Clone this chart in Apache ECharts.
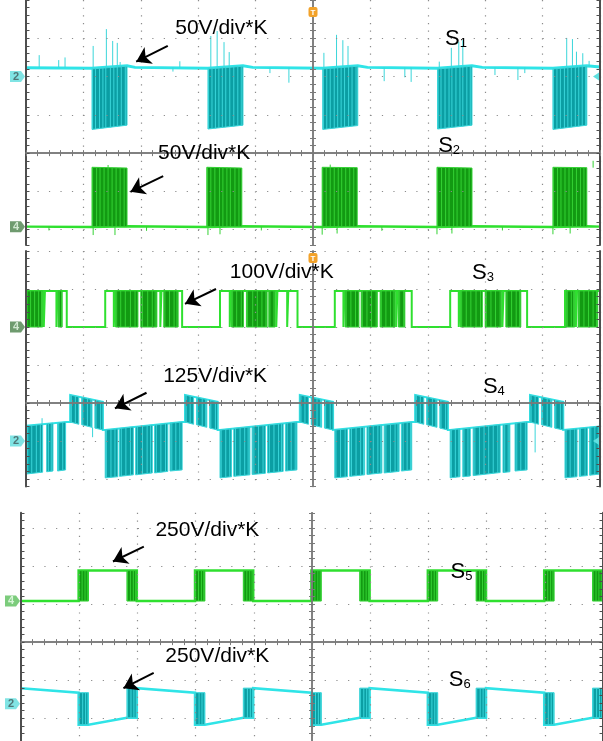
<!DOCTYPE html>
<html>
<head>
<meta charset="utf-8">
<title>Switch voltages S1-S6</title>
<script src="https://cdn.jsdelivr.net/npm/echarts@6/dist/echarts.min.js"></script>
<style>
  html, body { margin: 0; padding: 0; background: #fff; }
  #scope { width: 603px; height: 741px; }
</style>
</head>
<body>
<div id="scope"></div>
<script>
// All values are in graticule divisions: x runs from -5 to 5 across a screen,
// y is measured from that screen's horizontal centre line.

// ---------- Screen 1: S1 (cyan) ----------
const s1Trace = [[-5.00,2.23],[-3.85,2.22],[-3.24,2.28],[-3.10,2.24],[-1.83,2.22],[-1.22,2.28],[-1.05,2.24],
  [0.17,2.22],[0.78,2.28],[0.95,2.24],[2.17,2.22],[2.77,2.28],[2.95,2.24],[4.18,2.22],[4.77,2.28],[5.00,2.25]];
// switching bursts: [xStart, xEnd, topStart, topEnd, bottomStart, bottomEnd]
const s1Bursts = [[-3.85,-3.24,2.20,2.27,0.62,0.73],[-1.83,-1.22,2.20,2.27,0.63,0.73],[0.17,0.78,2.20,2.27,0.62,0.72],
  [2.17,2.77,2.20,2.27,0.63,0.73],[4.18,4.77,2.20,2.27,0.62,0.73]];
const s1Edges = [-3.84,-3.79,-3.72,-3.66,-3.61,-3.53,-3.47,-3.41,-3.34,-3.27,
  -1.82,-1.76,-1.70,-1.64,-1.58,-1.52,-1.45,-1.38,-1.31,-1.25,
  0.18,0.24,0.30,0.37,0.43,0.49,0.55,0.62,0.68,0.75,
  2.18,2.23,2.30,2.37,2.42,2.49,2.56,2.61,2.68,2.74,
  4.19,4.25,4.31,4.38,4.44,4.50,4.57,4.63,4.69,4.75];
// single overshoots: [x, from, to]
const s1Spikes = [[-4.77,2.24,2.56],[-4.43,2.24,2.43],[-4.32,2.24,2.50],[-2.32,2.24,2.40],
  [-3.83,2.24,2.80],[-3.60,2.24,3.24],[-3.49,2.24,2.93],[-3.41,2.24,2.88],[-3.36,2.24,2.38],
  [-1.78,2.24,3.06],[-1.67,2.24,3.19],[-1.55,2.24,2.90],[-1.46,2.24,2.64],
  [0.19,2.24,2.62],[0.41,2.24,3.09],[0.52,2.24,2.95],[0.61,2.24,2.80],
  [2.20,2.24,2.39],[2.41,2.24,2.75],[2.54,2.24,2.91],[2.61,2.24,2.95],
  [4.42,2.24,3.01],[4.52,2.24,2.98],[4.59,2.24,2.65],[4.70,2.24,2.61],[4.81,2.24,2.41],
  [-2.44,2.24,2.13],[-0.75,2.24,2.09],[-0.42,2.24,1.84],[1.24,2.24,1.88],[1.60,2.24,1.98],
  [1.71,2.24,1.86],[3.17,2.24,2.04],[3.57,2.24,1.91],[3.69,2.24,2.09]];

// ---------- Screen 1: S2 (green) ----------
const s2Trace = [[-5.00,-1.92],[-3.85,-1.93],[-3.24,-1.91],[-1.85,-1.93],[-1.24,-1.91],[0.16,-1.93],[0.77,-1.91],
  [2.16,-1.93],[2.77,-1.91],[4.18,-1.93],[4.77,-1.91],[5.00,-1.92]];
const s2Bursts = [[-3.85,-3.24,-0.37,-0.39,-1.92,-1.92],[-1.85,-1.24,-0.37,-0.39,-1.92,-1.92],
  [0.16,0.77,-0.37,-0.38,-1.92,-1.92],[2.16,2.77,-0.37,-0.39,-1.92,-1.92],[4.18,4.77,-0.37,-0.38,-1.92,-1.92]];
const s2Edges = [-3.84,-3.77,-3.71,-3.64,-3.57,-3.50,-3.43,-3.36,-3.29,
  -1.84,-1.78,-1.71,-1.63,-1.57,-1.50,-1.44,-1.36,-1.29,
  0.17,0.23,0.30,0.37,0.44,0.50,0.57,0.64,0.71,
  2.17,2.24,2.31,2.37,2.45,2.51,2.58,2.65,2.72,
  4.19,4.26,4.32,4.39,4.46,4.52,4.59,4.66,4.72];
const s2Spikes = [[-3.83,-1.92,-2.14],[-3.45,-1.92,-2.14],[-1.83,-1.92,-2.14],[-1.62,-1.92,-2.12],
  [0.16,-1.92,-2.13],[0.42,-1.92,-2.10],[2.16,-1.92,-2.12],[2.42,-1.92,-2.10],[4.18,-1.92,-2.12],
  [4.48,-1.92,-2.10],[-4.60,-1.92,-2.02],[-2.90,-1.92,-2.03],[-0.90,-1.92,-2.02],[1.20,-1.92,-2.03],
  [3.30,-1.92,-2.02],[-3.57,-0.38,-0.31],[0.30,-0.38,-0.30],[4.88,-0.38,-0.20]];

// ---------- Screen 2: S3 (green) ----------
const s3Trace = [[-5.00,2.95],[-4.69,2.95],[-4.69,2.00],[-4.67,2.00],[-4.67,2.95],[-4.47,2.95],[-4.47,2.00],
  [-4.45,2.00],[-4.45,2.95],[-4.29,2.95],[-4.29,2.00],[-3.62,2.00],
  [-3.62,2.95],[-3.47,2.95],[-3.47,2.00],[-3.45,2.00],[-3.45,2.95],[-2.66,2.95],[-2.66,2.00],[-2.64,2.00],
  [-2.64,2.95],[-2.28,2.95],[-2.28,2.00],[-1.62,2.00],
  [-1.62,2.95],[-1.45,2.95],[-1.45,2.00],[-1.43,2.00],[-1.43,2.95],[-0.64,2.95],[-0.64,2.00],[-0.62,2.00],
  [-0.62,2.95],[-0.45,2.95],[-0.45,2.00],[-0.43,2.00],[-0.43,2.95],[-0.27,2.95],[-0.27,2.00],[0.38,2.00],
  [0.38,2.95],[0.53,2.95],[0.53,2.00],[0.55,2.00],[0.55,2.95],[1.45,2.95],[1.45,2.00],[1.47,2.00],
  [1.47,2.95],[1.72,2.95],[1.72,2.00],[2.39,2.00],
  [2.39,2.95],[2.54,2.95],[2.54,2.00],[2.56,2.00],[2.56,2.95],[3.30,2.95],[3.30,2.00],[3.32,2.00],
  [3.32,2.95],[3.73,2.95],[3.73,2.00],[4.39,2.00],
  [4.39,2.95],[4.58,2.95],[4.58,2.00],[4.60,2.00],[4.60,2.95],[5.00,2.95]];
const s3Bursts = [[-5.00,-4.71,2.95,2.95,2.00,2.00],[-4.44,-4.37,2.95,2.95,2.00,2.00],
  [-3.44,-3.05,2.95,2.95,2.00,2.00],[-3.00,-2.72,2.95,2.95,2.00,2.00],[-2.60,-2.35,2.95,2.95,2.00,2.00],
  [-1.42,-1.21,2.95,2.95,2.00,2.00],[-1.16,-0.80,2.95,2.95,2.00,2.00],[-0.77,-0.66,2.95,2.95,2.00,2.00],
  [0.56,0.80,2.95,2.95,2.00,2.00],[0.84,1.12,2.95,2.95,2.00,2.00],[1.17,1.43,2.95,2.95,2.00,2.00],
  [1.49,1.60,2.95,2.95,2.00,2.00],
  [2.57,2.95,2.95,2.95,2.00,2.00],[3.00,3.28,2.95,2.95,2.00,2.00],[3.36,3.62,2.95,2.95,2.00,2.00],
  [4.41,4.56,2.95,2.95,2.00,2.00],[4.62,4.96,2.95,2.95,2.00,2.00]];
const s3Edges = [-4.98,-4.92,-4.85,-4.78,-4.73,-4.42,-4.38,-3.42,-3.35,-3.27,-3.18,-3.10,-2.97,-2.88,-2.80,
  -2.75,-2.58,-2.50,-2.42,-2.37,-1.40,-1.33,-1.25,-1.14,-1.05,-0.97,-0.89,-0.82,-0.75,-0.68,
  0.58,0.66,0.74,0.86,0.94,1.02,1.10,1.19,1.27,1.35,1.41,1.51,1.58,2.59,2.67,2.75,2.84,2.92,
  3.02,3.10,3.18,3.26,3.38,3.46,3.54,3.60,4.43,4.50,4.54,4.64,4.72,4.80,4.88,4.94];

// ---------- Screen 2: S4 (cyan) ----------
const s4Trace = [[-5.00,-0.60],[-4.29,-0.50],[-4.23,-0.50],[-4.23,0.21],[-3.66,0.03],[-3.66,-0.71],[-3.62,-0.71],
  [-2.28,-0.50],[-2.23,-0.50],[-2.23,0.21],[-1.66,0.03],[-1.66,-0.71],[-1.62,-0.71],
  [-0.28,-0.50],[-0.23,-0.50],[-0.23,0.21],[0.35,0.03],[0.35,-0.71],[0.38,-0.71],
  [1.72,-0.50],[1.78,-0.50],[1.78,0.21],[2.35,0.03],[2.35,-0.71],[2.39,-0.71],
  [3.73,-0.50],[3.78,-0.50],[3.78,0.21],[4.36,0.03],[4.36,-0.71],[4.39,-0.71],[5.00,-0.62]];
const s4Bursts = [
  [-5.00,-4.71,-0.61,-0.56,-1.87,-1.82],[-4.64,-4.53,-0.55,-0.53,-1.81,-1.79],[-4.45,-4.31,-0.53,-0.50,-1.79,-1.76],
  [-4.23,-4.08,0.21,0.16,-0.50,-0.56],[-4.03,-3.85,0.15,0.09,-0.57,-0.64],[-3.80,-3.66,0.07,0.03,-0.66,-0.71],
  [-3.62,-3.40,-0.71,-0.68,-1.97,-1.94],[-3.37,-3.13,-0.67,-0.63,-1.93,-1.89],[-3.09,-2.80,-0.63,-0.58,-1.89,-1.84],
  [-2.76,-2.53,-0.58,-0.54,-1.84,-1.80],[-2.49,-2.28,-0.53,-0.50,-1.79,-1.76],
  [-2.23,-2.08,0.21,0.16,-0.50,-0.56],[-2.03,-1.85,0.15,0.09,-0.57,-0.64],[-1.80,-1.66,0.07,0.03,-0.66,-0.71],
  [-1.62,-1.42,-0.71,-0.68,-1.97,-1.94],[-1.38,-1.10,-0.67,-0.63,-1.93,-1.89],[-1.06,-0.83,-0.62,-0.59,-1.88,-1.85],
  [-0.79,-0.52,-0.58,-0.54,-1.84,-1.80],[-0.48,-0.28,-0.53,-0.50,-1.79,-1.76],
  [-0.23,-0.08,0.21,0.16,-0.50,-0.56],[-0.03,0.15,0.15,0.09,-0.57,-0.64],[0.20,0.35,0.07,0.03,-0.66,-0.71],
  [0.38,0.60,-0.71,-0.68,-1.97,-1.94],[0.64,0.90,-0.67,-0.63,-1.93,-1.89],[0.94,1.20,-0.62,-0.58,-1.88,-1.84],
  [1.24,1.50,-0.58,-0.54,-1.84,-1.80],[1.54,1.72,-0.53,-0.50,-1.79,-1.76],
  [1.78,1.93,0.21,0.16,-0.50,-0.56],[1.98,2.16,0.15,0.09,-0.57,-0.64],[2.21,2.35,0.07,0.03,-0.66,-0.71],
  [2.39,2.56,-0.71,-0.68,-1.97,-1.94],[2.61,2.74,-0.68,-0.66,-1.94,-1.92],[2.79,3.26,-0.65,-0.57,-1.91,-1.83],
  [3.31,3.43,-0.57,-0.55,-1.83,-1.81],[3.52,3.73,-0.53,-0.50,-1.79,-1.76],
  [3.78,3.93,0.21,0.16,-0.50,-0.56],[3.98,4.16,0.15,0.09,-0.57,-0.64],[4.21,4.36,0.07,0.03,-0.66,-0.71],
  [4.39,4.60,-0.71,-0.68,-1.97,-1.94],[4.64,4.78,-0.67,-0.65,-1.93,-1.91],[4.82,5.00,-0.64,-0.61,-1.90,-1.87]];
const s4Edges = [-4.97,-4.90,-4.82,-4.75,-4.61,-4.56,-4.43,-4.36,
  -3.60,-3.52,-3.45,-3.34,-3.26,-3.18,-3.06,-2.97,-2.89,-2.83,-2.73,-2.65,-2.57,-2.46,-2.39,-2.32,
  -1.60,-1.52,-1.45,-1.35,-1.27,-1.19,-1.13,-1.03,-0.95,-0.87,-0.76,-0.68,-0.60,-0.55,-0.45,-0.38,-0.31,
  0.40,0.48,0.56,0.67,0.75,0.83,0.88,0.97,1.05,1.13,1.18,1.27,1.35,1.43,1.48,1.57,1.64,1.70,
  2.41,2.48,2.54,2.63,2.70,2.82,2.90,2.98,3.06,3.14,3.22,3.34,3.40,3.55,3.62,3.70,
  4.41,4.48,4.56,4.66,4.74,4.84,4.91,4.97,
  -4.21,-4.14,-4.01,-3.93,-3.87,-3.78,-3.70,-2.21,-2.14,-2.01,-1.93,-1.87,-1.78,-1.70,
  -0.21,-0.14,-0.01,0.07,0.13,0.22,0.30,1.80,1.87,2.00,2.08,2.14,2.23,2.31,
  3.80,3.87,4.00,4.08,4.14,4.23,4.31];
const s4Spikes = [[-3.84,-0.64,-0.90],[3.87,-0.55,-1.30],[-4.72,-0.56,-0.40]];

// ---------- Screen 3: S5 (green) ----------
const s5Trace = [[-5.00,1.08],[-4.01,1.08],[-4.01,1.88],[-3.01,1.88],[-3.01,1.08],[-2.01,1.08],[-2.01,1.88],
  [-1.01,1.88],[-1.01,1.08],[-0.01,1.08],[-0.01,1.88],[0.99,1.88],[0.99,1.08],[1.99,1.08],[1.99,1.88],
  [2.99,1.88],[2.99,1.08],[3.99,1.08],[3.99,1.88],[5.00,1.88]];
const s5Bursts = [[-4.01,-3.84,1.88,1.88,1.08,1.08],[-3.18,-3.01,1.88,1.88,1.08,1.08],
  [-2.01,-1.84,1.88,1.88,1.08,1.08],[-1.18,-1.01,1.88,1.88,1.08,1.08],
  [-0.01,0.16,1.88,1.88,1.08,1.08],[0.82,0.99,1.88,1.88,1.08,1.08],
  [1.99,2.16,1.88,1.88,1.08,1.08],[2.82,2.99,1.88,1.88,1.08,1.08],
  [3.99,4.16,1.88,1.88,1.08,1.08],[4.82,4.99,1.88,1.88,1.08,1.08]];
const s5Edges = [-4.00,-3.95,-3.90,-3.86,-3.17,-3.12,-3.07,-3.03,-2.00,-1.95,-1.90,-1.86,-1.17,-1.12,-1.07,-1.03,
  0.00,0.05,0.10,0.14,0.83,0.88,0.93,0.97,2.00,2.05,2.10,2.14,2.83,2.88,2.93,2.97,
  4.00,4.05,4.10,4.14,4.83,4.88,4.93,4.97];

// ---------- Screen 3: S6 (cyan) ----------
const s6Trace = [[-5.00,-1.21],[-4.01,-1.33],[-4.01,-2.17],[-3.84,-2.17],[-3.18,-1.99],[-3.01,-1.99],
  [-3.01,-1.21],[-2.01,-1.33],[-2.01,-2.17],[-1.84,-2.17],[-1.18,-1.99],[-1.01,-1.99],
  [-1.01,-1.21],[-0.01,-1.33],[-0.01,-2.17],[0.16,-2.17],[0.82,-1.99],[0.99,-1.99],
  [0.99,-1.21],[1.99,-1.33],[1.99,-2.17],[2.16,-2.17],[2.82,-1.99],[2.99,-1.99],
  [2.99,-1.21],[3.99,-1.33],[3.99,-2.17],[4.16,-2.17],[4.82,-1.99],[5.00,-1.99]];
const s6Bursts = [[-4.01,-3.84,-1.33,-1.33,-2.17,-2.17],[-3.18,-3.01,-1.21,-1.21,-1.99,-1.99],
  [-2.01,-1.84,-1.33,-1.33,-2.17,-2.17],[-1.18,-1.01,-1.21,-1.21,-1.99,-1.99],
  [-0.01,0.16,-1.33,-1.33,-2.17,-2.17],[0.82,0.99,-1.21,-1.21,-1.99,-1.99],
  [1.99,2.16,-1.33,-1.33,-2.17,-2.17],[2.82,2.99,-1.21,-1.21,-1.99,-1.99],
  [3.99,4.16,-1.33,-1.33,-2.17,-2.17],[4.82,4.99,-1.21,-1.21,-1.99,-1.99]];
const s6Edges = [-4.00,-3.94,-3.89,-3.85,-3.17,-3.11,-3.06,-3.02,-2.00,-1.94,-1.89,-1.85,-1.17,-1.11,-1.06,-1.02,
  0.00,0.06,0.11,0.15,0.83,0.89,0.94,0.98,2.00,2.06,2.11,2.15,2.83,2.89,2.94,2.98,
  4.00,4.06,4.11,4.15,4.83,4.89,4.94,4.98];

// ---------- Annotations ----------
const noteText  = ['50V/div*K', '50V/div*K', '100V/div*K', '125V/div*K', '250V/div*K', '250V/div*K'];
const notePanel = [0, 0, 1, 1, 2, 2];
const noteAt    = [[-2.40,3.27],[-2.70,0.00],[-1.45,3.43],[-2.61,0.71],[-2.69,2.95],[-2.52,-0.37]];
const arrowFrom = [[-2.53,2.80],[-2.61,-0.60],[-1.69,3.00],[-2.90,0.27],[-2.89,2.51],[-2.72,-0.81]];
const arrowTo   = [[-3.08,2.39],[-3.18,-1.01],[-2.23,2.61],[-3.45,-0.14],[-3.42,2.12],[-3.24,-1.21]];
const channelSub = ['1', '2', '3', '4', '5', '6'];
const channelAt  = [[2.30,2.99],[2.18,0.19],[2.77,3.42],[2.96,0.42],[2.38,1.85],[2.35,-0.99]];
// ground-reference badges on the left edge: level (div) and channel number
const badgeLevel = [2.0, -1.92, 2.0, -1.0, 1.08, -1.62];
const badgeText  = ['2', '4', '4', '2', '4', '2'];

// ---------- Layout ----------
const FONT = 'Liberation Sans, Arial, sans-serif';
const screens = [
  { rect: { left: 26, top: 0,     width: 574, height: 245 },   yMin: -2.4, yMax: 4.0, rows: [-2, -1, 1, 2, 3] },
  { rect: { left: 26, top: 251,   width: 574, height: 235.6 }, yMin: -2.2, yMax: 4.0, rows: [-2, -1, 1, 2, 3, 4] },
  { rect: { left: 21, top: 512.8, width: 584, height: 229.8 }, yMin: -2.6, yMax: 3.4, rows: [-2, -1, 1, 2, 3] }
];
const CYAN = { trace: '#2fe4e7', fill: '#0b9ea3', edge: '#3ad6da' };
const GREEN = { trace: '#2fe02f', fill: '#129a12', edge: '#34d234' };
const AXIS = '#7a7a7a', FRAME = '#4e4e4e', DOT = '#8c8c8c';

const grids = [], xAxes = [], yAxes = [], series = [];

screens.forEach((s, g) => {
  grids.push(Object.assign({ containLabel: false }, s.rect));
  const colStep = s.rect.width / 50;                       // 0.2 div horizontally
  const rowStep = s.rect.height / (s.yMax - s.yMin) / 5;   // 0.2 div vertically
  const base = { gridIndex: g, type: 'value', min: -5, max: 5, axisLabel: { show: false },
                 splitLine: { show: false }, z: 10, silent: true };
  // centre line (ticks down / up) and the dotted vertical rulings
  xAxes.push(Object.assign({}, base, { position: 'bottom', interval: 0.2,
    axisLine: { onZero: true, lineStyle: { color: AXIS, width: 1.5 } },
    axisTick: { inside: false, length: 3, lineStyle: { color: AXIS, width: 1 } } }));
  xAxes.push(Object.assign({}, base, { position: 'top', interval: 0.2,
    axisLine: { onZero: true, lineStyle: { color: AXIS, width: 1.5 } },
    axisTick: { inside: false, length: 3, lineStyle: { color: AXIS, width: 1 } } }));
  xAxes.push(Object.assign({}, base, { position: 'bottom', interval: 1,
    axisLine: { show: false, onZero: false }, axisTick: { show: false },
    splitLine: { show: true, lineStyle: { color: DOT, width: 1.2, type: [1.2, rowStep - 1.2] } } }));
  const ybase = { gridIndex: g, type: 'value', min: s.yMin, max: s.yMax, interval: 0.2,
                  axisLabel: { show: false }, splitLine: { show: false }, z: 10, silent: true };
  yAxes.push(Object.assign({}, ybase, { position: 'left',
    axisLine: { onZero: true, lineStyle: { color: AXIS, width: 1.5 } },
    axisTick: { inside: false, length: 3, lineStyle: { color: AXIS, width: 1 } } }));
  yAxes.push(Object.assign({}, ybase, { position: 'right',
    axisLine: { onZero: true, lineStyle: { color: AXIS, width: 1.5 } },
    axisTick: { inside: false, length: 3, lineStyle: { color: AXIS, width: 1 } } }));
  yAxes.push(Object.assign({}, ybase, { position: 'left',
    axisLine: { onZero: false, lineStyle: { color: FRAME, width: 2 } },
    axisTick: { inside: true, length: 3.5, lineStyle: { color: FRAME, width: 1 } } }));
  yAxes.push(Object.assign({}, ybase, { position: 'right',
    axisLine: { onZero: false, lineStyle: { color: FRAME, width: 2 } },
    axisTick: { inside: true, length: 3.5, lineStyle: { color: FRAME, width: 1 } } }));

  // dotted horizontal rulings
  series.push({ type: 'line', xAxisIndex: 3 * g, yAxisIndex: 4 * g, data: [], silent: true,
    markLine: { z: 10, silent: true, animation: false, symbol: 'none', label: { show: false },
      lineStyle: { color: DOT, width: 1.2, type: [1.2, colStep - 1.2] },
      emphasis: { disabled: true },
      data: s.rows.map(v => ({ yAxis: v })) } });
});

function traceSeries(g, data, color, width) {
  return { type: 'line', xAxisIndex: 3 * g, yAxisIndex: 4 * g, data, symbol: 'none', silent: true,
    clip: true, z: 2, lineStyle: { color, width, join: 'miter' } };
}
function burstSeries(g, data, pal) {
  return { type: 'custom', xAxisIndex: 3 * g, yAxisIndex: 4 * g, data, silent: true, clip: true, z: 3,
    encode: { x: [0, 1], y: [2, 3, 4, 5] },
    renderItem: (params, api) => {
      const x0 = api.value(0), x1 = api.value(1);
      const pts = [api.coord([x0, api.value(2)]), api.coord([x1, api.value(3)]),
                   api.coord([x1, api.value(5)]), api.coord([x0, api.value(4)])];
      return { type: 'polygon', shape: { points: pts },
               style: { fill: pal.fill, stroke: pal.edge, lineWidth: 1 } };
    } };
}
// bright switching edges inside a burst, spanning the burst's height at that x
function edgeSeries(g, xs, bursts, color) {
  return { type: 'custom', xAxisIndex: 3 * g, yAxisIndex: 4 * g, data: xs.map(x => [x, 0]),
    silent: true, clip: true, z: 4, encode: { x: 0, y: 1 },
    renderItem: (params, api) => {
      const x = api.value(0);
      const b = bursts.find(q => x >= q[0] && x <= q[1]);
      if (!b) return null;
      const f = (x - b[0]) / (b[1] - b[0]);
      const p1 = api.coord([x, b[2] + (b[3] - b[2]) * f]);
      const p2 = api.coord([x, b[4] + (b[5] - b[4]) * f]);
      return { type: 'line', shape: { x1: p1[0], y1: p1[1], x2: p2[0], y2: p2[1] },
               style: { stroke: color, lineWidth: 1 } };
    } };
}
function spikeSeries(g, data, color) {
  return { type: 'custom', xAxisIndex: 3 * g, yAxisIndex: 4 * g, data, silent: true, clip: true, z: 4,
    encode: { x: 0, y: [1, 2] },
    renderItem: (params, api) => {
      const p1 = api.coord([api.value(0), api.value(1)]);
      const p2 = api.coord([api.value(0), api.value(2)]);
      return { type: 'line', shape: { x1: p1[0], y1: p1[1], x2: p2[0], y2: p2[1] },
               style: { stroke: color, lineWidth: 1 } };
    } };
}

// screen 1
series.push(traceSeries(0, s1Trace, CYAN.trace, 3), burstSeries(0, s1Bursts, CYAN),
  edgeSeries(0, s1Edges, s1Bursts, CYAN.edge), spikeSeries(0, s1Spikes, CYAN.edge));
series.push(traceSeries(0, s2Trace, GREEN.trace, 2.5), burstSeries(0, s2Bursts, GREEN),
  edgeSeries(0, s2Edges, s2Bursts, GREEN.edge), spikeSeries(0, s2Spikes, GREEN.edge));
// screen 2
series.push(traceSeries(1, s3Trace, GREEN.trace, 2), burstSeries(1, s3Bursts, GREEN),
  edgeSeries(1, s3Edges, s3Bursts, GREEN.edge));
series.push(traceSeries(1, s4Trace, CYAN.trace, 2), burstSeries(1, s4Bursts, CYAN),
  edgeSeries(1, s4Edges, s4Bursts, CYAN.edge), spikeSeries(1, s4Spikes, CYAN.edge));
// screen 3
series.push(traceSeries(2, s5Trace, GREEN.trace, 2.5), burstSeries(2, s5Bursts, GREEN),
  edgeSeries(2, s5Edges, s5Bursts, GREEN.edge));
series.push(traceSeries(2, s6Trace, CYAN.trace, 2.5), burstSeries(2, s6Bursts, CYAN),
  edgeSeries(2, s6Edges, s6Bursts, CYAN.edge));

// scale notes, arrows and channel names, one carrier series per screen
screens.forEach((s, g) => {
  const notes = [], arrows = [];
  noteText.forEach((t, i) => {
    if (notePanel[i] !== g) return;
    notes.push({ coord: noteAt[i], value: 0, label: { formatter: t, fontSize: 21 } });
    arrows.push([{ coord: arrowFrom[i] }, { coord: arrowTo[i] }]);
  });
  channelSub.forEach((n, i) => {
    if (Math.floor(i / 2) !== g) return;
    notes.push({ coord: channelAt[i], value: 0,
      label: { formatter: '{s|S}{n|' + n + '}',
        rich: { s: { fontSize: 22, fontFamily: FONT, color: '#000' },
                n: { fontSize: 13, fontFamily: FONT, color: '#000', padding: [9, 0, 0, 0] } } } });
  });
  series.push({ type: 'line', xAxisIndex: 3 * g, yAxisIndex: 4 * g, data: [], silent: true,
    markPoint: { z: 20, silent: true, animation: false, symbol: 'rect', symbolSize: 1,
      itemStyle: { color: 'rgba(0,0,0,0)' },
      label: { show: true, position: 'inside', align: 'left', verticalAlign: 'middle',
               color: '#000', fontFamily: FONT },
      data: notes },
    markLine: { z: 20, silent: true, animation: false, symbol: ['none', 'arrow'], symbolSize: 14,
      label: { show: false }, emphasis: { disabled: true },
      lineStyle: { color: '#000', width: 2, type: 'solid' },
      data: arrows } });
});

const chart = echarts.init(document.getElementById('scope'), null, { renderer: 'canvas' });
chart.setOption({ animation: false, backgroundColor: '#fff', grid: grids, xAxis: xAxes, yAxis: yAxes, series });

// screen furniture: channel ground badges, trigger flags, right-edge level arrows
const furniture = [];
badgeLevel.forEach((lvl, i) => {
  const g = Math.floor(i / 2);
  const left = screens[g].rect.left;
  const y = chart.convertToPixel({ gridIndex: g }, [-5, lvl])[1];
  const cyan = badgeText[i] === '2';
  const fill = cyan ? '#80e4e4' : (g === 2 ? '#7ccc7c' : '#6f9b6f');
  const ink = cyan ? '#4f7677' : (g === 2 ? '#d8f5d8' : '#d2e8d2');
  const x0 = left - 16;
  furniture.push({ type: 'polygon', z: 30, silent: true,
    shape: { points: [[x0, y - 5.5], [x0 + 11, y - 5.5], [x0 + 15, y], [x0 + 11, y + 5.5], [x0, y + 5.5]] },
    style: { fill } });
  furniture.push({ type: 'text', z: 31, silent: true, x: x0 + 6, y: y,
    style: { text: badgeText[i], fill: ink, font: 'bold 11px ' + FONT, align: 'center', verticalAlign: 'middle' } });
});
[[0, 7], [1, 253]].forEach(([g, top]) => {
  const cx = chart.convertToPixel({ gridIndex: g }, [0, 0])[0];
  furniture.push({ type: 'rect', z: 30, silent: true, shape: { x: cx - 4.5, y: top, width: 9, height: 10, r: 2 },
    style: { fill: '#f2a22a' } });
  furniture.push({ type: 'text', z: 31, silent: true, x: cx, y: top + 5.5,
    style: { text: 'T', fill: '#fff', font: 'bold 8px ' + FONT, align: 'center', verticalAlign: 'middle' } });
});
[[0, 2.0], [1, -1.0]].forEach(([g, lvl]) => {
  const p = chart.convertToPixel({ gridIndex: g }, [5, lvl]);
  furniture.push({ type: 'polygon', z: 30, silent: true,
    shape: { points: [[p[0] - 7, p[1]], [p[0] - 1, p[1] - 4], [p[0] - 1, p[1] + 4]] },
    style: { fill: '#5fe0e0' } });
});
chart.setOption({ graphic: furniture });
</script>
</body>
</html>
